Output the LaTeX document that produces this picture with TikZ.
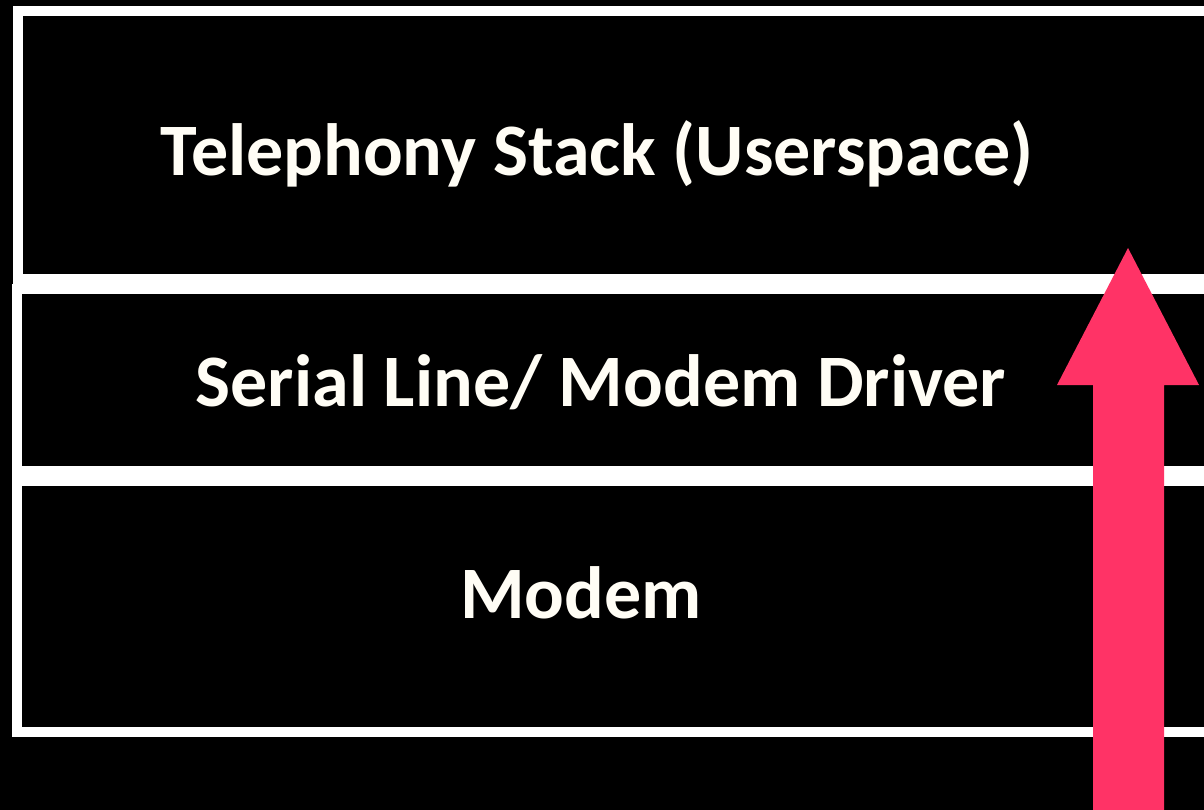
\documentclass[tikz,border=0pt]{standalone}
\usepackage{fontspec}
\setmainfont{Carlito}
\definecolor{arrowpink}{RGB}{255,51,102}
\definecolor{txtwhite}{RGB}{255,253,245}
\tikzset{
  layer/.style={draw=white, line width=10pt, fill=black, anchor=north west, inner sep=0pt, outer sep=0pt},
  layertext/.style={text=txtwhite, font=\bfseries\fontsize{74}{88}\selectfont, anchor=base, inner sep=0pt},
}
\begin{document}
\begin{tikzpicture}[x=1pt,y=-1pt]
\fill[black] (0,0) rectangle (1204,810);
\useasboundingbox (0,0) rectangle (1204,810);
\clip (0,0) rectangle (1204,810);
\node[layer, minimum width=1230pt, minimum height=268pt] (top) at (18,11) {};
\node[layer, minimum width=1230pt, minimum height=182pt] (mid) at (16.5,289) {};
\node[layer, minimum width=1230pt, minimum height=250.5pt] (bot) at (16.5,481) {};
\node[layertext] (ttop) at (597,176) {Telephony Stack (Userspace)};
\node[layertext] (tmid) at (601,406) {Serial Line/ Modem Driver};
\node[layertext] (tbot) at (581,618) {Modem};
\coordinate (tip) at (1128,248);
\fill[arrowpink] (tip) -- (1199,385) -- (1164,385) -- (1164,815) -- (1093,815) -- (1093,385) -- (1057,385) -- cycle;
\end{tikzpicture}
\end{document}
